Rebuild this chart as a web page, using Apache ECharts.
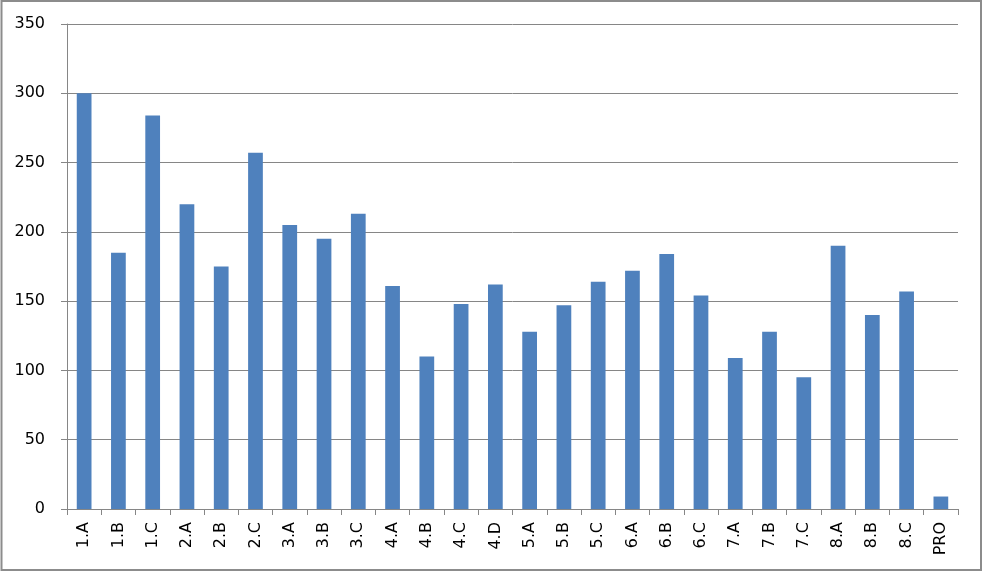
<!DOCTYPE html>
<html>
<head>
<meta charset="utf-8">
<script src="https://cdn.jsdelivr.net/npm/echarts@6/dist/echarts.min.js"></script>
<style>
html,body{margin:0;padding:0;background:#fff;}
#c{width:983px;height:572px;}
</style>
</head>
<body>
<div id="c"></div>
<script>
const categories = ['1.A','1.B','1.C','2.A','2.B','2.C','3.A','3.B','3.C','4.A','4.B','4.C','4.D','5.A','5.B','5.C','6.A','6.B','6.C','7.A','7.B','7.C','8.A','8.B','8.C','PRO'];
const values = [300,185,284,220,175,257,205,195,213,161,110,148,162,128,147,164,172,184,154,109,128,95,190,140,157,9];
const yTicks = {min:0, max:350, interval:50};

const chart = echarts.init(document.getElementById('c'), null, {renderer:'canvas'});
const font = 'DejaVu Sans';
chart.setOption({
  animation:false,
  backgroundColor:'#fff',
  graphic:[{
    type:'rect', silent:true, z:-1,
    shape:{x:1.5,y:1,width:979.5,height:569},
    style:{fill:'none',stroke:'#8c8c8c',lineWidth:2}
  }],
  grid:{left:67,right:25,top:24,bottom:63,containLabel:false},
  xAxis:{
    type:'category',
    data:categories,
    axisLine:{show:true,lineStyle:{color:'#868686',width:1}},
    axisTick:{show:true,length:6,alignWithLabel:false,lineStyle:{color:'#868686'}},
    axisLabel:{rotate:90,margin:13,color:'#000',fontFamily:font,fontSize:16,interval:0}
  },
  yAxis:{
    type:'value',
    min:yTicks.min,max:yTicks.max,interval:yTicks.interval,
    axisLine:{show:true,lineStyle:{color:'#868686',width:1}},
    axisTick:{show:true,length:6,lineStyle:{color:'#868686'}},
    axisLabel:{margin:22,color:'#000',fontFamily:font,fontSize:16},
    splitLine:{show:true,lineStyle:{color:'#868686',width:1}}
  },
  series:[{
    type:'bar',
    data:values,
    barWidth:'43%',
    itemStyle:{color:'#4F81BD'}
  }]
});
</script>
</body>
</html>
